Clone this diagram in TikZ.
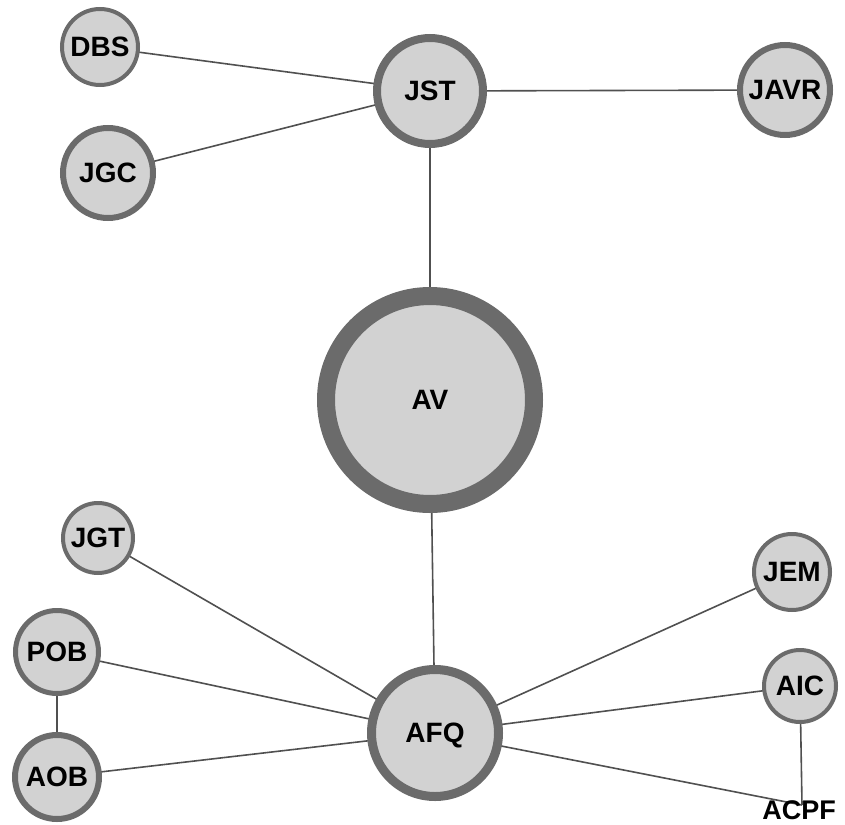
\documentclass[tikz,border=0pt]{standalone}
\usepackage{fontspec}
\setmainfont{Liberation Sans}
\usetikzlibrary{backgrounds}
\definecolor{nfill}{HTML}{D2D2D2}
\definecolor{nborder}{HTML}{6B6B6B}
\definecolor{edgec}{HTML}{505050}
\begin{document}
\begin{tikzpicture}[x=1pt,y=-1pt,
  nd/.style={circle, fill=nfill, draw=nborder, inner sep=0pt, text depth=0pt,
    font=\bfseries\fontsize{28}{28}\selectfont, text=black},
  lbl/.style={inner sep=0pt, text depth=0pt, font=\bfseries\fontsize{27}{27}\selectfont, text=black},
  ed/.style={draw=edgec, line width=1.6pt}]
\useasboundingbox (0,0) rectangle (845,824);
\node[nd, minimum size=76pt, line width=4pt] (DBS) at (100,47) {DBS};
\node[nd, minimum size=90pt, line width=6pt] (JGC) at (108,173) {JGC};
\node[nd, minimum size=106pt, line width=8pt] (JST) at (430,91) {JST};
\node[nd, minimum size=90pt, line width=6pt] (JAVR) at (785,90) {JAVR};
\node[nd, minimum size=208pt, line width=18pt] (AV) at (430,400) {AV};
\node[nd, minimum size=70pt, line width=4pt] (JGT) at (98,538) {JGT};
\node[nd, minimum size=83pt, line width=5pt] (POB) at (57,652) {POB};
\node[nd, minimum size=84pt, line width=6pt] (AOB) at (57,777) {AOB};
\node[nd, minimum size=76pt, line width=4pt] (JEM) at (792,572) {JEM};
\node[nd, minimum size=72pt, line width=4pt] (AIC) at (800,686) {AIC};
\node[nd, minimum size=127pt, line width=9pt] (AFQ) at (435,733) {AFQ};
\coordinate (ACPFc) at (802,805);
\node[lbl] (ACPF) at (799,810) {ACPF};
\begin{scope}[on background layer]
\draw[ed] (DBS.center) -- (JST.center);
\draw[ed] (JGC.center) -- (JST.center);
\draw[ed] (JST.center) -- (JAVR.center);
\draw[ed] (JST.center) -- (AV.center);
\draw[ed] (AV.center) -- (AFQ.center);
\draw[ed] (AFQ.center) -- (JGT.center);
\draw[ed] (AFQ.center) -- (POB.center);
\draw[ed] (AFQ.center) -- (AOB.center);
\draw[ed] (POB.center) -- (AOB.center);
\draw[ed] (AFQ.center) -- (JEM.center);
\draw[ed] (AFQ.center) -- (AIC.center);
\draw[ed] (AFQ.center) -- (ACPFc);
\draw[ed] (AIC.center) -- (ACPFc);
\end{scope}
\end{tikzpicture}
\end{document}
